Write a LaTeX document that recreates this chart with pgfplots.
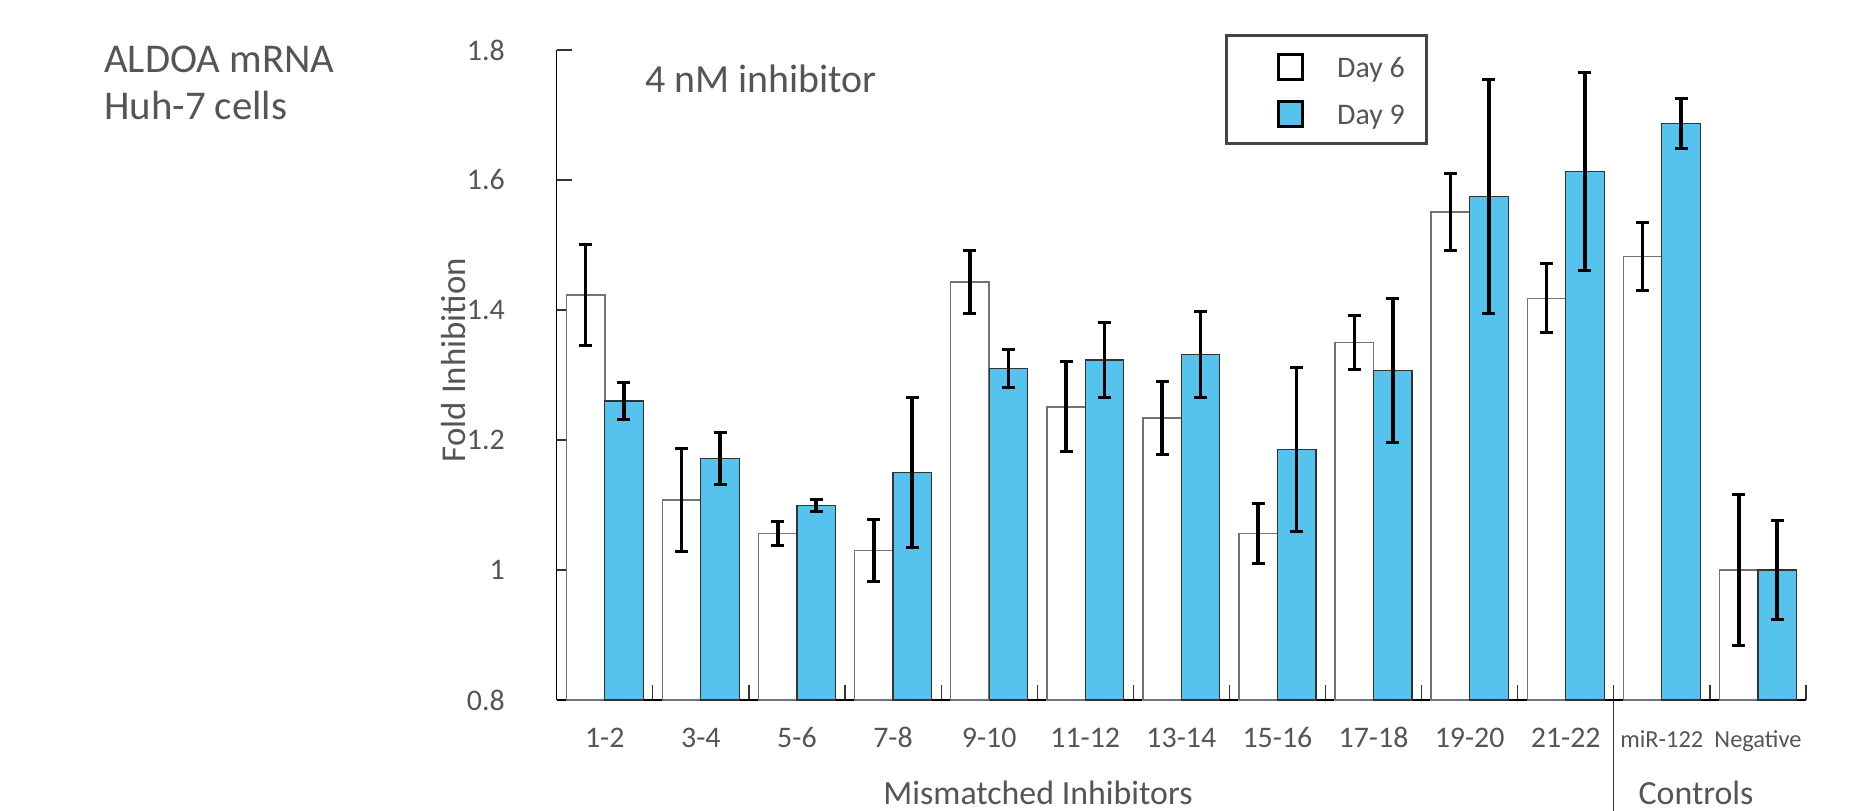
\documentclass[border=0pt]{standalone}
\usepackage{pgfplots}
\pgfplotsset{compat=1.18}
\usepackage{pgfplotstable}
\usepackage{fontspec}
\setmainfont{Carlito}
\definecolor{txt}{RGB}{85,85,85}
\definecolor{dayn}{RGB}{86,194,238}
\definecolor{frm}{RGB}{68,68,68}

\pgfplotstableread{
x d6 e6 d9 e9
0 1.423 0.077 1.260 0.029
1 1.108 0.079 1.172 0.040
2 1.056 0.018 1.099 0.009
3 1.030 0.047 1.150 0.115
4 1.443 0.048 1.310 0.029
5 1.251 0.069 1.323 0.057
6 1.234 0.056 1.331 0.066
7 1.056 0.046 1.185 0.126
8 1.350 0.042 1.307 0.111
9 1.551 0.059 1.575 0.180
10 1.418 0.053 1.613 0.152
11 1.482 0.052 1.687 0.038
12 1.000 0.116 1.000 0.076
}\datatable

\pgfplotsset{ybar legend/.style={legend image code/.code={%
  \path (-29.5bp,0bp);
  \draw[##1,/tikz/.cd,draw=black,line width=3bp] (0bp,-14.3bp) rectangle (24bp,10.7bp);}}}

\begin{document}
\begin{tikzpicture}
\useasboundingbox (0,0) rectangle (1861bp,811bp);
\node[anchor=base west, font=\fontsize{41}{47}\selectfont, text=txt, inner sep=0pt] at (104bp,738bp) {ALDOA mRNA};
\node[anchor=base west, font=\fontsize{41}{47}\selectfont, text=txt, inner sep=0pt] at (104bp,691bp) {Huh-7 cells};
\begin{axis}[
  at={(556.7bp,111bp)}, anchor=south west,
  scale only axis, width=1249.3bp, height=650bp,
  xmin=-0.5, xmax=12.5, ymin=0.8, ymax=1.8,
  axis lines*=left,
  axis line style={black, line width=1.3bp, -},
  clip=false,
  ybar, bar width=0.4,
  ytick={0.8,1,1.2,1.4,1.6,1.8},
  /pgf/number format/assume math mode=true,
  yticklabel style={font=\fontsize{30}{36}\selectfont, text=txt, anchor=east, inner sep=0pt, xshift=-51.7bp,
    /pgf/number format/fixed, /pgf/number format/precision=1},
  tick align=inside,
  major tick length=15bp,
  tick style={black!80, line width=1.2bp},
  xtick={0.5,1.5,...,12.5},
  xticklabels={},
  extra x ticks={0,1,...,12},
  extra x tick labels={1-2,3-4,5-6,7-8,9-10,11-12,13-14,15-16,17-18,19-20,21-22,{\fontsize{24.5}{28}\selectfont miR-122},{\fontsize{24.5}{28}\selectfont Negative}},
  extra x tick style={major tick length=0pt},
  xticklabel style={font=\fontsize{30}{36}\selectfont, text=txt, anchor=base, inner sep=0pt, yshift=-47bp},
  ylabel={Fold Inhibition},
  ylabel style={at={(axis description cs:-0.0828,0.523)}, anchor=center, inner sep=0pt, font=\fontsize{35}{40}\selectfont, text=txt},
  error bars/y dir=both,
  error bars/y explicit,
  error bars/error bar style={black, line width=3.6bp},
  error bars/error mark options={rotate=90, black, line width=3bp, mark size=6.5bp},
  legend style={at={(axis description cs:0.5353,1.0246)}, anchor=north west, draw=frm, line width=3bp, fill=white,
    inner xsep=21.5bp, inner ysep=15.5bp, row sep=17bp, column sep=33bp,
    font=\fontsize{30}{36}\selectfont, nodes={inner sep=0pt, text height=26.7bp, text depth=1.3bp, text=txt}},
  legend cell align=left,
]
\addplot[fill=white, draw=black!55, line width=1.5bp, bar shift=-0.2] table[x=x, y=d6, y error=e6] {\datatable};
\addlegendentry{Day 6}
\addplot[fill=dayn, draw=black!80, line width=1.2bp, bar shift=0.2] table[x=x, y=d9, y error=e9] {\datatable};
\addlegendentry{Day 9}
\node[anchor=base west, font=\fontsize{40}{48}\selectfont, text=txt, inner sep=0pt] at (axis description cs:0.0707,0.934) {4 nM inhibitor};
\node[anchor=base, font=\fontsize{34}{40}\selectfont, text=txt, inner sep=0pt] at (axis description cs:0.3853,-0.1615) {Mismatched Inhibitors};
\node[anchor=base, font=\fontsize{34}{40}\selectfont, text=txt, inner sep=0pt] at (axis description cs:0.912,-0.1615) {Controls};
\draw[black!80, line width=1.2bp] (axis description cs:0.84615,0) -- (axis description cs:0.84615,-0.1708);
\end{axis}
\end{tikzpicture}
\end{document}
